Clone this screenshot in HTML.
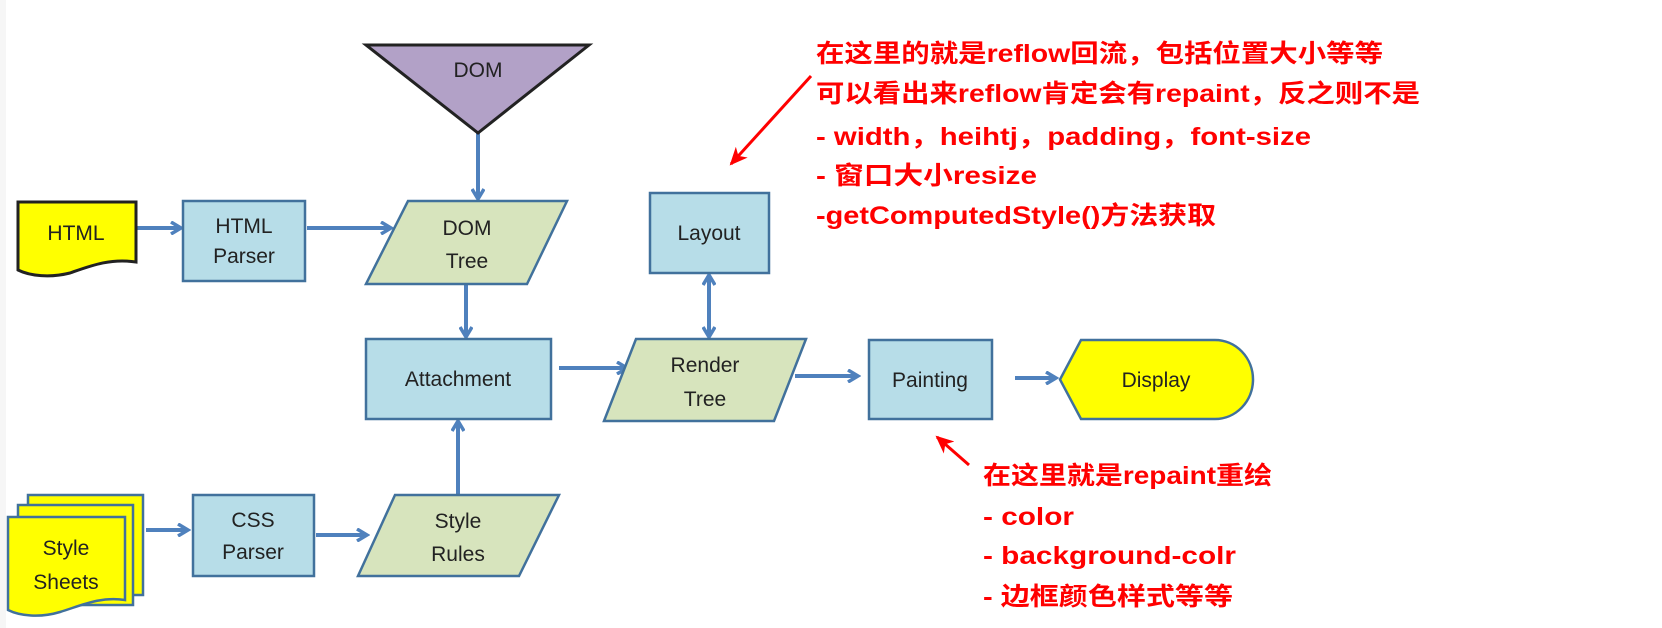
<!DOCTYPE html>
<html><head><meta charset="utf-8"><style>
html,body{margin:0;padding:0;background:#fff;}
svg{display:block;}
.lb{font-family:"Liberation Sans",sans-serif;font-size:21px;fill:#222;text-anchor:middle;}
.rd{font-family:"Liberation Sans","Noto Sans CJK SC",sans-serif;font-size:25px;fill:#f00;font-weight:bold;}
</style></head><body>
<svg width="1662" height="628" viewBox="0 0 1662 628" xmlns="http://www.w3.org/2000/svg">
<defs>
<marker id="ah" markerWidth="10" markerHeight="10" refX="7" refY="5" orient="auto" markerUnits="userSpaceOnUse">
<path d="M1,0 L8,5 L1,10" fill="none" stroke="#4f81bd" stroke-width="3"/></marker>
<marker id="ah2" markerWidth="14" markerHeight="14" refX="10" refY="7" orient="auto-start-reverse" markerUnits="userSpaceOnUse">
<path d="M1,1 L11,7 L1,13" fill="none" stroke="#4f81bd" stroke-width="3.5"/></marker>
<marker id="ra" markerWidth="20" markerHeight="16" refX="16" refY="8" orient="auto" markerUnits="userSpaceOnUse">
<path d="M0,0 L18,8 L0,16 L5,8 Z" fill="#f00"/></marker>
</defs>
<rect x="0" y="0" width="6" height="628" fill="#f6f6f6"/>
<g stroke="#4f81bd" stroke-width="4" fill="none">
<line x1="478" y1="133" x2="478" y2="198" marker-end="url(#ah2)"/>
<line x1="137" y1="228" x2="180" y2="228" marker-end="url(#ah2)"/>
<line x1="307" y1="228" x2="390" y2="228" marker-end="url(#ah2)"/>
<line x1="466" y1="284" x2="466" y2="336" marker-end="url(#ah2)"/>
<line x1="559" y1="368" x2="626" y2="368" marker-end="url(#ah2)"/>
<line x1="709" y1="276" x2="709" y2="336" marker-start="url(#ah2)" marker-end="url(#ah2)"/>
<line x1="795" y1="376" x2="857" y2="376" marker-end="url(#ah2)"/>
<line x1="1015" y1="378" x2="1055" y2="378" marker-end="url(#ah2)"/>
<line x1="458" y1="495" x2="458" y2="422" marker-end="url(#ah2)"/>
<line x1="146" y1="530" x2="187" y2="530" marker-end="url(#ah2)"/>
<line x1="316" y1="535" x2="366" y2="535" marker-end="url(#ah2)"/>
</g>
<!-- DOM triangle -->
<polygon points="366,45 589,45 478,133" fill="#b2a1c7" stroke="#222" stroke-width="3"/>
<text class="lb" x="478" y="77">DOM</text>
<!-- HTML doc -->
<path d="M18,202 H136 V262 C110,258 90,266 70,273 C50,278 30,276 18,270 Z" fill="#ffff00" stroke="#222" stroke-width="3"/>
<text class="lb" x="76" y="240">HTML</text>
<!-- boxes -->
<g fill="#b7dde8" stroke="#41719c" stroke-width="2.5">
<rect x="183" y="201" width="122" height="80"/>
<rect x="366" y="339" width="185" height="80"/>
<rect x="650" y="193" width="119" height="80"/>
<rect x="869" y="340" width="123" height="79"/>
<rect x="193" y="495" width="121" height="81"/>
</g>
<g fill="#d7e4bd" stroke="#41719c" stroke-width="2.5">
<polygon points="408,201 567,201 527,284 366,284"/>
<polygon points="636,339 806,339 774,421 604,421"/>
<polygon points="395,495 559,495 519,576 358,576"/>
</g>
<path d="M1081,340 H1215 A38,39.5 0 0 1 1215,419 H1081 L1060,379.5 Z" fill="#ffff00" stroke="#41719c" stroke-width="2.5"/>
<!-- style sheets stack -->
<g fill="#ffff00" stroke="#41719c" stroke-width="2.5">
<rect x="28" y="495" width="115" height="100"/>
<rect x="18" y="505" width="115" height="100"/>
<path d="M8,517 H125 V600 C100,596 80,606 60,612 C40,618 20,616 8,610 Z"/>
</g>
<text class="lb" x="244" y="233">HTML</text>
<text class="lb" x="244" y="263">Parser</text>
<text class="lb" x="467" y="235">DOM</text>
<text class="lb" x="467" y="268">Tree</text>
<text class="lb" x="458" y="386">Attachment</text>
<text class="lb" x="709" y="240">Layout</text>
<text class="lb" x="705" y="372">Render</text>
<text class="lb" x="705" y="406">Tree</text>
<text class="lb" x="930" y="387">Painting</text>
<text class="lb" x="1156" y="387">Display</text>
<text class="lb" x="253" y="527">CSS</text>
<text class="lb" x="253" y="559">Parser</text>
<text class="lb" x="458" y="528">Style</text>
<text class="lb" x="458" y="561">Rules</text>
<text class="lb" x="66" y="555">Style</text>
<text class="lb" x="66" y="589">Sheets</text>
<!-- red arrows -->
<line x1="811" y1="76" x2="731" y2="164" stroke="#f00" stroke-width="3" marker-end="url(#ra)"/>
<line x1="969" y1="465" x2="937" y2="437" stroke="#f00" stroke-width="3" marker-end="url(#ra)"/>
<!-- red text -->
<text class="rd" x="816" y="62" textLength="567" lengthAdjust="spacingAndGlyphs">在这里的就是reflow回流，包括位置大小等等</text>
<text class="rd" x="816" y="102" textLength="604" lengthAdjust="spacingAndGlyphs">可以看出来reflow肯定会有repaint，反之则不是</text>
<text class="rd" x="816" y="145" textLength="495" lengthAdjust="spacingAndGlyphs">- width，heihtj，padding，font-size</text>
<text class="rd" x="816" y="184" textLength="221" lengthAdjust="spacingAndGlyphs">- 窗口大小resize</text>
<text class="rd" x="816" y="224" textLength="400" lengthAdjust="spacingAndGlyphs">-getComputedStyle()方法获取</text>
<text class="rd" x="983" y="484" textLength="289" lengthAdjust="spacingAndGlyphs">在这里就是repaint重绘</text>
<text class="rd" x="983" y="525" textLength="91" lengthAdjust="spacingAndGlyphs">- color</text>
<text class="rd" x="983" y="564" textLength="253" lengthAdjust="spacingAndGlyphs">- background-colr</text>
<text class="rd" x="983" y="605" textLength="250" lengthAdjust="spacingAndGlyphs">- 边框颜色样式等等</text>
</svg>
</body></html>
